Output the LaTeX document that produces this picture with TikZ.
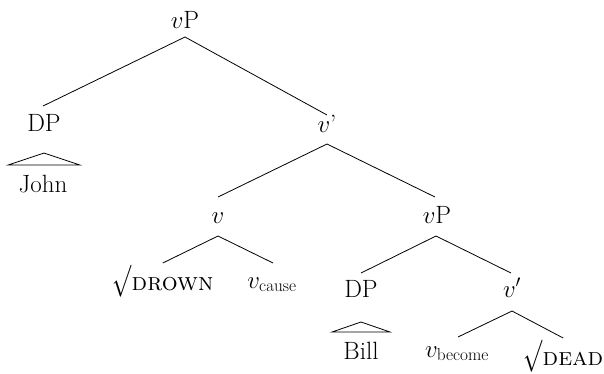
\documentclass[tikz,border=0pt]{standalone}
\usepackage{graphicx}
\usetikzlibrary{calc}
\newcommand{\rootsym}{\raisebox{-7pt}{\resizebox*{19pt}{32pt}{\raisebox{\depth}{$\surd$}}}\kern0.5pt}
\tikzset{
  lab/.style={anchor=base, inner sep=0pt, font=\fontsize{25}{30}\selectfont},
  rootlab/.style={lab, anchor=base west},
  branch/.style={line width=0.8pt, black},
  roof/.style={line width=0.8pt, black}
}
\begin{document}
\begin{tikzpicture}[x=1pt,y=-1pt]
\useasboundingbox (0,0) rectangle (604,373);
% nodes
\node[lab] (vP1) at (185,28) {$v$P};
\node[lab] (DP1) at (44,131) {DP};
\node[lab] (John) at (43,192) {John};
\node[lab] (vb1) at (327,132) {$v$’};
\node[lab] (v) at (218,223) {$v$};
\node[rootlab] (root1) at (112,290) {\rootsym\textsc{drown}};
\node[lab] (vcause) at (272,288) {$v_{\mathrm{cause}}$};
\node[lab] (vP2) at (437,223) {$v$P};
\node[lab] (DP2) at (361,297) {DP};
\node[lab] (Bill) at (361,359) {Bill};
\node[lab] (vb2) at (512,297) {$v'$};
\node[lab] (vbecome) at (457,357) {$v_{\mathrm{become}}$};
\node[rootlab] (root2) at (523,365) {\rootsym\textsc{dead}};
% branches
\draw[branch] ($(vP1.base)+(0,9)$) -- ($(DP1.base)+(-1,-25)$);
\draw[branch] ($(vP1.base)+(0,9)$) -- ($(vb1.base)+(0,-17)$);
\draw[branch] ($(vb1.base)+(0,12)$) -- ($(v.base)+(0,-26)$);
\draw[branch] ($(vb1.base)+(0,12)$) -- ($(vP2.base)+(-2,-26)$);
\draw[branch] ($(v.base)+(0,13)$) -- ($(root1.base)+(0,-27)$);
\draw[branch] ($(v.base)+(0,13)$) -- ($(vcause.base)+(1,-25)$);
\draw[branch] ($(vP2.base)+(-1,13)$) -- ($(DP2.base)+(0,-24)$);
\draw[branch] ($(vP2.base)+(-1,13)$) -- ($(vb2.base)+(-1,-24)$);
\draw[branch] ($(vb2.base)+(0,14)$) -- ($(vbecome.base)+(1,-20)$);
\draw[branch] ($(vb2.base)+(0,14)$) -- ($(root2.base)+(0,-27)$);
% roofs
\draw[roof] ($(DP1.base)+(0,22)$) -- ($(DP1.base)+(36,34)$) -- ($(DP1.base)+(-36,34)$) -- cycle;
\draw[roof] ($(DP2.base)+(0,25)$) -- ($(DP2.base)+(29,35)$) -- ($(DP2.base)+(-29,35)$) -- cycle;
\end{tikzpicture}
\end{document}
